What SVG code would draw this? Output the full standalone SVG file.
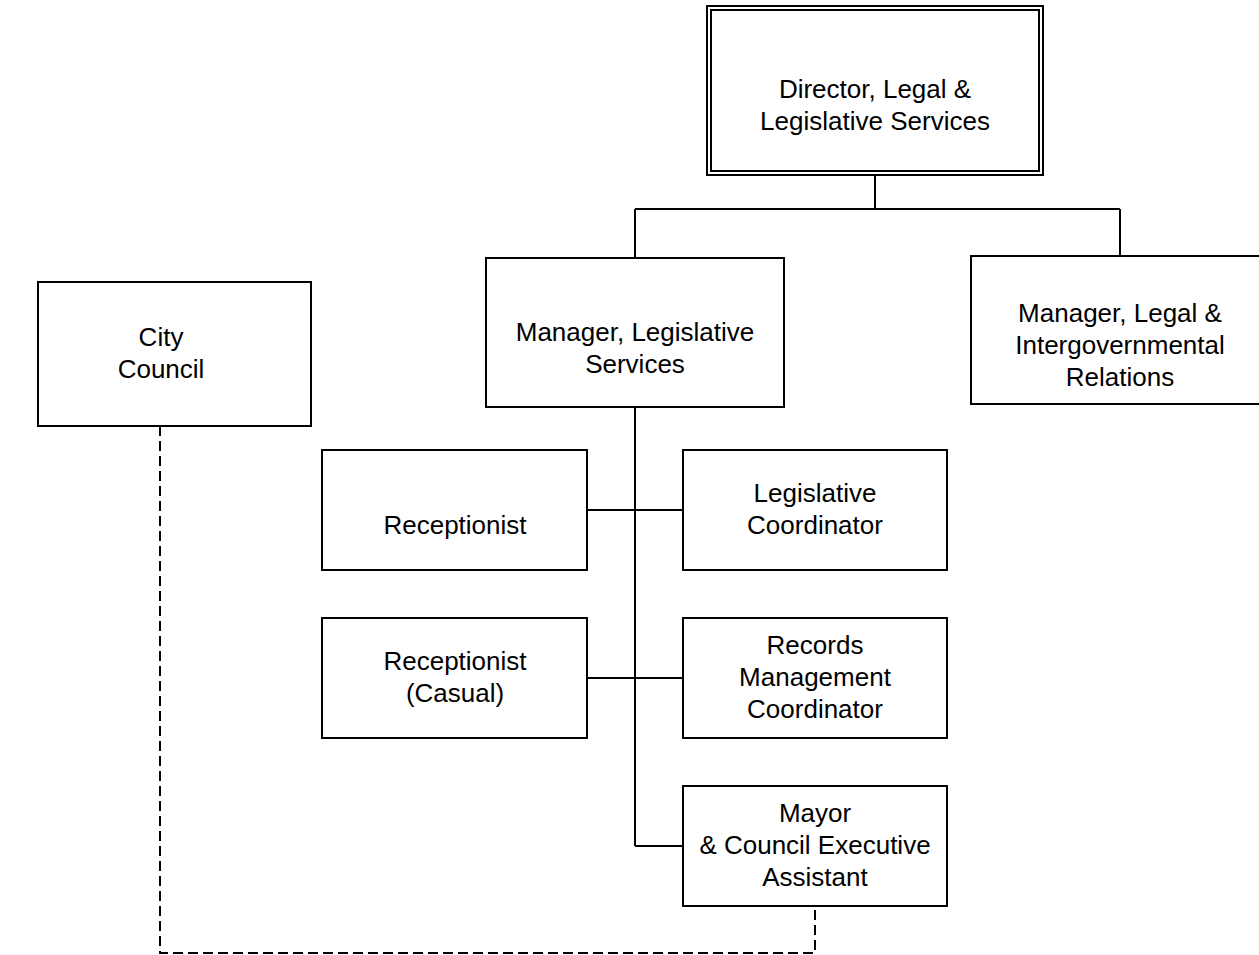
<svg xmlns="http://www.w3.org/2000/svg" width="1259" height="955" viewBox="0 0 1259 955">
<style>
.box{fill:#fff;stroke:#000;stroke-width:2}
.ln{fill:none;stroke:#000;stroke-width:2}
.dash{fill:none;stroke:#000;stroke-width:2;stroke-dasharray:10 5}
text{font-family:"Liberation Sans",Arial,sans-serif;font-size:26px;fill:#000;text-anchor:middle}
</style>
<rect width="1259" height="955" fill="#fff"/>
<g id="connectors">
<path class="ln" d="M875 175V209M635 209H1120M635 209V258M1120 209V256"/>
<path class="ln" d="M635 407V846M587 510H683M587 678H683M635 846H683"/>
<path class="dash" d="M160 426V953H815V906"/>
</g>
<g id="director">
<rect class="box" x="707" y="6" width="336" height="169"/>
<rect class="box" x="711" y="10" width="328" height="161"/>
<text x="875" y="98">Director, Legal &amp;</text>
<text x="875" y="130">Legislative Services</text>
</g>
<g id="city-council">
<rect class="box" x="38" y="282" width="273" height="144"/>
<text x="161" y="346">City</text>
<text x="161" y="378">Council</text>
</g>
<g id="manager-legislative">
<rect class="box" x="486" y="258" width="298" height="149"/>
<text x="635" y="341">Manager, Legislative</text>
<text x="635" y="373">Services</text>
</g>
<g id="manager-legal">
<rect class="box" x="971" y="256" width="292" height="148"/>
<text x="1120" y="322">Manager, Legal &amp;</text>
<text x="1120" y="354">Intergovernmental</text>
<text x="1120" y="386">Relations</text>
</g>
<g id="receptionist">
<rect class="box" x="322" y="450" width="265" height="120"/>
<text x="455" y="534">Receptionist</text>
</g>
<g id="legislative-coordinator">
<rect class="box" x="683" y="450" width="264" height="120"/>
<text x="815" y="502">Legislative</text>
<text x="815" y="534">Coordinator</text>
</g>
<g id="receptionist-casual">
<rect class="box" x="322" y="618" width="265" height="120"/>
<text x="455" y="670">Receptionist</text>
<text x="455" y="702">(Casual)</text>
</g>
<g id="records">
<rect class="box" x="683" y="618" width="264" height="120"/>
<text x="815" y="654">Records</text>
<text x="815" y="686">Management</text>
<text x="815" y="718">Coordinator</text>
</g>
<g id="mayor-assistant">
<rect class="box" x="683" y="786" width="264" height="120"/>
<text x="815" y="822">Mayor</text>
<text x="815" y="854">&amp; Council Executive</text>
<text x="815" y="886">Assistant</text>
</g>
</svg>
